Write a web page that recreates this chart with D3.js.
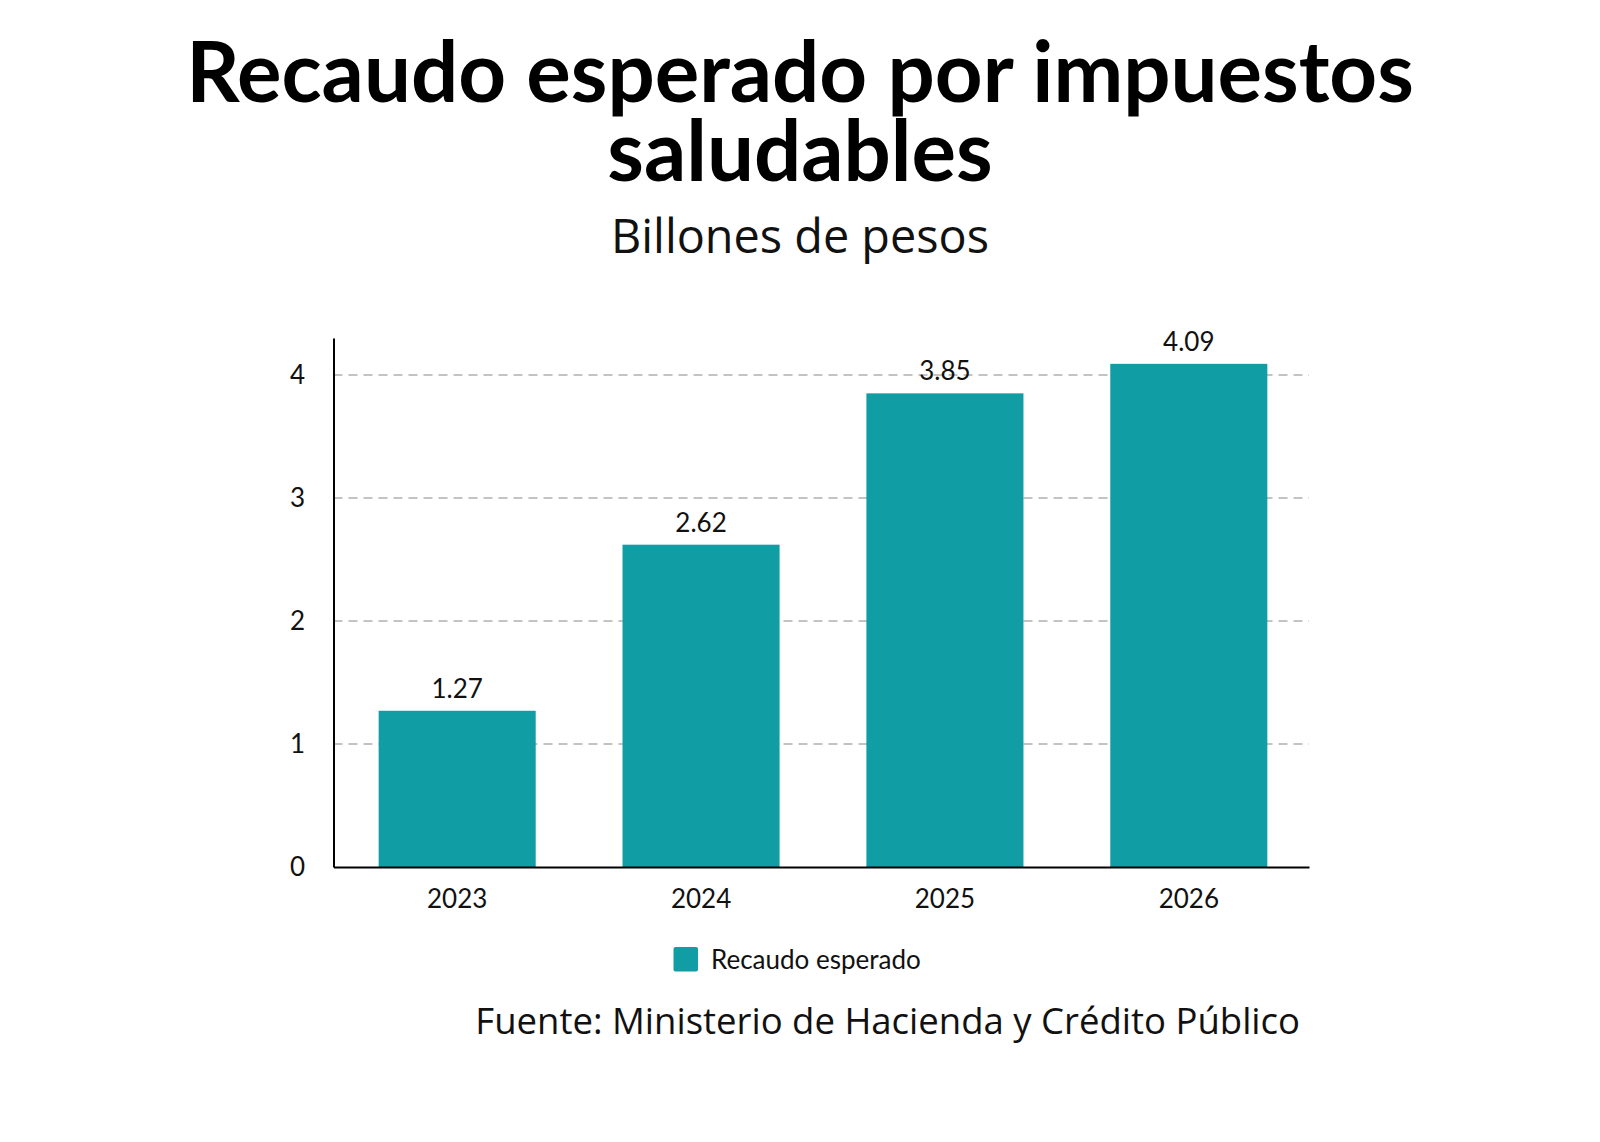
<!DOCTYPE html>
<html>
<head>
<meta charset="utf-8">
<script src="https://cdn.jsdelivr.net/npm/d3@7"></script>
<style>
  html, body { margin: 0; padding: 0; background: #fff; }
  svg { display: block; }
</style>
</head>
<body>
<svg id="chart" width="1600" height="1142"></svg>
<script>
const categories = ["2023", "2024", "2025", "2026"];
const values = [1.27, 2.62, 3.85, 4.09];
const valueLabels = ["1.27", "2.62", "3.85", "4.09"];
const yTicks = [0, 1, 2, 3, 4];
const seriesName = "Recaudo esperado";
const titleLines = ["Recaudo esperado por impuestos", "saludables"];
const subtitle = "Billones de pesos";
const source = "Fuente: Ministerio de Hacienda y Crédito Público";

const W = 1600, H = 1142;
const teal = "#119DA4";
const plot = { left: 333.5, right: 1309, top: 338, bottom: 867 };

const svg = d3.select("#chart");
svg.append("rect").attr("width", W).attr("height", H).attr("fill", "#fff");

function fitText(sel, targetWidth) {
  const node = sel.node();
  const w = node.getComputedTextLength();
  const fs = parseFloat(sel.attr("font-size"));
  sel.attr("font-size", fs * targetWidth / w);
}

// Title (one text element, two lines)
const title = svg.append("text").attr("text-anchor", "middle")
  .attr("font-family", "Lato, 'Noto Sans', sans-serif")
  .attr("font-weight", 700).attr("font-size", 78).attr("fill", "#000");
const tl1 = title.append("tspan").attr("x", 800).attr("y", 102).text(titleLines[0]);
const w1 = tl1.node().getComputedTextLength();
title.attr("font-size", 78 * 1228 / w1);
title.append("tspan").attr("x", 800).attr("y", 181).text(titleLines[1]);

// Subtitle
const st = svg.append("text").attr("x", 800).attr("y", 253)
  .attr("text-anchor", "middle").attr("font-family", "'Open Sans', sans-serif")
  .attr("font-weight", 400).attr("font-size", 44).attr("fill", "#111")
  .text(subtitle);
fitText(st, 378);

// Scales
const x = d3.scaleBand().domain(categories).range([plot.left, plot.right])
  .paddingInner(0.356).paddingOuter(0.178).align(0.52);
const y = d3.scaleLinear().domain([0, 4.3]).range([plot.bottom, plot.top]);

// Grid
svg.append("g").selectAll("line").data(yTicks.filter(d => d > 0)).join("line")
  .attr("x1", plot.left).attr("x2", plot.right)
  .attr("y1", d => y(d)).attr("y2", d => y(d))
  .attr("stroke", "#b0b0b0").attr("stroke-width", 1.5)
  .attr("stroke-dasharray", "9,6");

// Bars
svg.append("g").selectAll("rect").data(categories).join("rect")
  .attr("x", d => x(d)).attr("width", x.bandwidth())
  .attr("y", (d, i) => y(values[i])).attr("height", (d, i) => y(0) - y(values[i]))
  .attr("fill", teal);

// Value labels
svg.append("g").selectAll("text").data(categories).join("text")
  .attr("x", d => x(d) + x.bandwidth() / 2)
  .attr("y", (d, i) => y(values[i]) - 13)
  .attr("text-anchor", "middle").attr("font-family", "Lato, sans-serif")
  .attr("font-size", 26).attr("fill", "#111")
  .text((d, i) => valueLabels[i]);

// Y axis
const yAxis = svg.append("g").attr("transform", `translate(${plot.left},0)`)
  .call(d3.axisLeft(y).tickValues(yTicks).tickSize(0).tickPadding(30).tickFormat(d3.format("d")));
yAxis.select(".domain").attr("stroke", "#000").attr("stroke-width", 2);
yAxis.selectAll("text").attr("font-family", "Lato, sans-serif").attr("font-size", 26)
  .attr("fill", "#111").attr("text-anchor", "middle").attr("dx", "-6");

// X axis
const xAxis = svg.append("g").attr("transform", `translate(0,${plot.bottom})`)
  .call(d3.axisBottom(x).tickSize(0).tickPadding(23));
xAxis.select(".domain").attr("stroke", "#000").attr("stroke-width", 2);
xAxis.selectAll("text").attr("font-family", "Lato, sans-serif").attr("font-size", 26)
  .attr("fill", "#111");

// Legend
const lg = svg.append("g");
lg.append("rect").attr("x", 673.5).attr("y", 947).attr("width", 24.5).attr("height", 24.5)
  .attr("rx", 2).attr("fill", teal);
lg.append("text").attr("x", 711).attr("y", 960).attr("dy", "0.35em")
  .attr("font-family", "Lato, sans-serif").attr("font-size", 26).attr("fill", "#111")
  .text(seriesName);

// Source
const src = svg.append("text").attr("x", 1300).attr("y", 1034)
  .attr("text-anchor", "end").attr("font-family", "'Open Sans', sans-serif")
  .attr("font-size", 32).attr("fill", "#111").text(source);
fitText(src, 825);
</script>
</body>
</html>
